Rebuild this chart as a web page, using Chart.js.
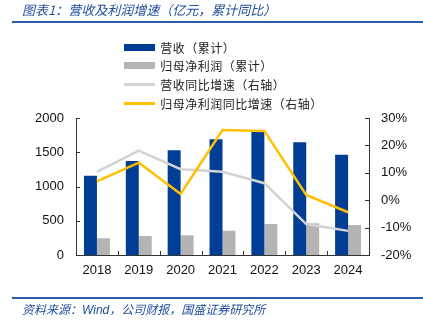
<!DOCTYPE html>
<html>
<head>
<meta charset="utf-8">
<script src="https://cdn.jsdelivr.net/npm/chart.js@4.4.1/dist/chart.umd.min.js"></script>
<style>
  html, body { margin: 0; padding: 0; background: #fff; }
  #wrap { position: relative; width: 423px; height: 324px; overflow: hidden; font-family: "Noto Sans CJK SC", sans-serif; }
  #chart { position: absolute; left: 0; top: 0; }
  .title { position: absolute; left: 22px; top: 0px; font-size: 13px; font-style: italic; color: #1f4e9a; white-space: nowrap; }
  .rule { position: absolute; left: 12px; right: 0; height: 2px; background: #2e5ca8; }
  .source { position: absolute; left: 22px; top: 300px; font-size: 12px; font-style: italic; color: #1f4e9a; white-space: nowrap; }
  .source .en { font-family: "Liberation Sans", Arial, sans-serif; }
  #legend { position: absolute; left: 124px; top: 38px; }
  .item { display: flex; align-items: center; height: 18.6px; font-size: 12px; color: #222; white-space: nowrap; }
  .item .c { display: inline-block; width: 12.5px; text-align: center; }
  .sw { width: 31px; margin-right: 5px; flex: none; }
</style>
</head>
<body>
<div id="wrap">
  <canvas id="chart" width="423" height="324"></canvas>
  <div class="title">图表1：营收及利润增速（亿元，累计同比）</div>
  <div class="rule" style="top:21px"></div>
  <div id="legend"></div>
  <div class="rule" style="top:297px"></div>
  <div class="source">资料来源：<span class="en">Wind</span>，公司财报，国盛证券研究所</div>
</div>
<script>
// 年份
const years = ['2018', '2019', '2020', '2021', '2022', '2023', '2024'];
// 营收（累计，亿元）
const revenue = [1158, 1372, 1528, 1689, 1800, 1645, 1464];
// 归母净利润（累计，亿元）
const netProfit = [244, 277, 287, 355, 453, 462, 438];
// 营收同比增速（%）
const revenueYoY = [10.3, 18.1, 11.3, 10.4, 6.2, -8.7, -11.2];
// 归母净利润同比增速（%）
const profitYoY = [6.9, 13.7, 2.3, 25.6, 25.3, 1.9, -4.4];

const C_BLUE = '#003d94';
const C_GRAY = '#b4b4b4';
const C_LINE_GRAY = '#d3d3d3';
const C_YELLOW = '#ffc000';
const AXIS = '#333333';
const tickFont = { family: '"Liberation Sans", Arial, sans-serif', size: 13 };

// 刻度线朝内画
const innerTicks = {
    id: 'innerTicks',
    afterDraw(chart) {
        const ctx = chart.ctx;
        const { x, y, y1 } = chart.scales;
        ctx.save();
        ctx.strokeStyle = AXIS;
        ctx.lineWidth = 1;
        ctx.beginPath();
        for (let i = 0; i < years.length - 1; i++) {
            const px = Math.round((x.getPixelForValue(i) + x.getPixelForValue(i + 1)) / 2) + 0.5;
            ctx.moveTo(px, x.top);
            ctx.lineTo(px, x.top - 4);
        }
        y.ticks.forEach((t, i) => {
            const py = Math.round(y.getPixelForTick(i)) + 0.5;
            ctx.moveTo(y.right, py);
            ctx.lineTo(y.right + 4, py);
        });
        y1.ticks.forEach((t, i) => {
            const py = Math.round(y1.getPixelForTick(i)) + 0.5;
            ctx.moveTo(y1.left, py);
            ctx.lineTo(y1.left - 4, py);
        });
        ctx.stroke();
        ctx.restore();
    }
};

const chart = new Chart(document.getElementById('chart'), {
    type: 'bar',
    data: {
        labels: years,
        datasets: [
            {
                label: '营收（累计）',
                data: revenue,
                backgroundColor: C_BLUE,
                yAxisID: 'y',
                order: 3,
                swatch: 'bar'
            },
            {
                label: '归母净利润（累计）',
                data: netProfit,
                backgroundColor: C_GRAY,
                yAxisID: 'y',
                order: 3,
                swatch: 'bar'
            },
            {
                type: 'line',
                label: '营收同比增速（右轴）',
                data: revenueYoY,
                borderColor: C_LINE_GRAY,
                borderWidth: 2.5,
                pointRadius: 0,
                tension: 0,
                yAxisID: 'y1',
                order: 2
            },
            {
                type: 'line',
                label: '归母净利润同比增速（右轴）',
                data: profitYoY,
                borderColor: C_YELLOW,
                borderWidth: 2.5,
                pointRadius: 0,
                tension: 0,
                yAxisID: 'y1',
                order: 1
            }
        ]
    },
    options: {
        responsive: false,
        animation: false,
        layout: { padding: { top: 118, left: 0, right: 0, bottom: 0 } },
        datasets: {
            bar: { categoryPercentage: 0.62, barPercentage: 1.0 }
        },
        plugins: {
            legend: { display: false },
            tooltip: { enabled: false }
        },
        scales: {
            x: {
                grid: { display: false, drawTicks: false },
                border: { color: AXIS, width: 1 },
                ticks: { color: '#111', font: tickFont, padding: 8 },
                afterFit(scale) { scale.height = 69; }
            },
            y: {
                position: 'left',
                min: 0,
                max: 2000,
                grid: { display: false, drawTicks: false },
                border: { color: AXIS, width: 1 },
                ticks: {
                    stepSize: 500,
                    color: '#111',
                    font: tickFont,
                    padding: 12,
                    callback: v => String(v)
                },
                afterFit(scale) { scale.width = 76; }
            },
            y1: {
                position: 'right',
                min: -20,
                max: 30,
                grid: { display: false, drawTicks: false },
                border: { color: AXIS, width: 1 },
                ticks: {
                    stepSize: 10,
                    color: '#111',
                    font: tickFont,
                    padding: 12,
                    callback: v => v + '%'
                },
                afterFit(scale) { scale.width = 54; }
            }
        }
    },
    plugins: [innerTicks]
});

// 竖排图例：每个字放进等宽格子里
const legendEl = document.getElementById('legend');
chart.data.datasets.forEach(ds => {
    const row = document.createElement('div');
    row.className = 'item';
    const sw = document.createElement('span');
    sw.className = 'sw';
    if (ds.swatch === 'bar') {
        sw.style.height = '7px';
        sw.style.background = ds.backgroundColor;
    } else {
        sw.style.height = '3px';
        sw.style.background = ds.borderColor;
    }
    row.appendChild(sw);
    for (const ch of ds.label) {
        const c = document.createElement('span');
        c.className = 'c';
        c.textContent = ch;
        row.appendChild(c);
    }
    legendEl.appendChild(row);
});
</script>
</body>
</html>
